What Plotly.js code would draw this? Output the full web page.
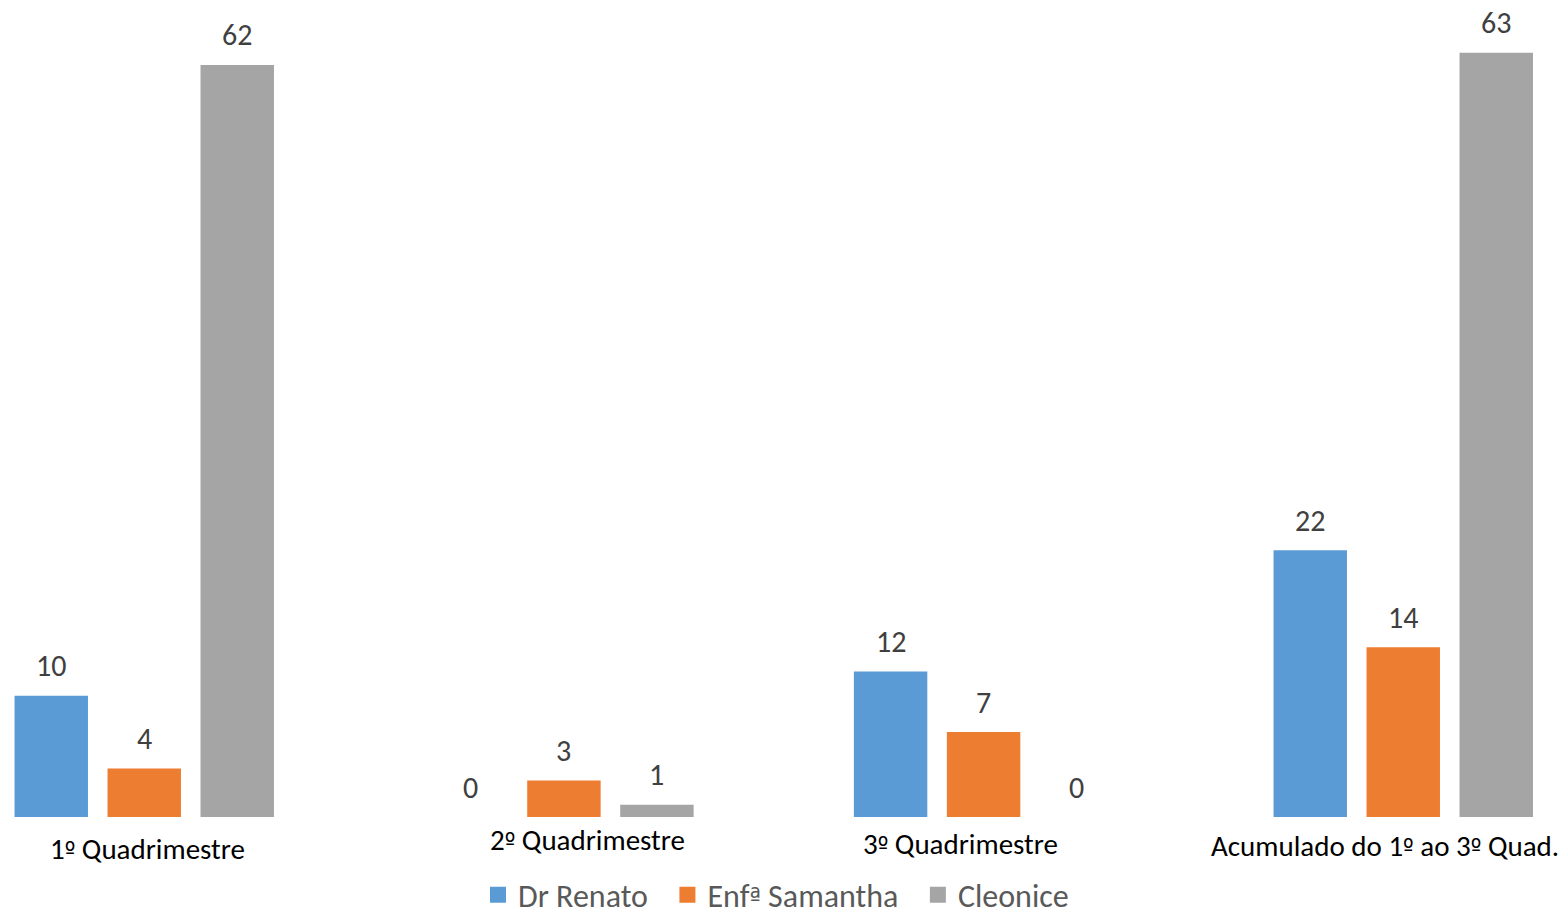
<!DOCTYPE html>
<html>
<head>
<meta charset="utf-8">
<script src="https://cdn.plot.ly/plotly-3.0.1.min.js"></script>
<style>html,body{margin:0;padding:0;background:#fff;}#chart{width:1567px;height:910px;}</style>
</head>
<body>
<div id="chart"></div>
<script>
const categories = ["1º Quadrimestre", "2º Quadrimestre", "3º Quadrimestre", "Acumulado do 1º ao 3º Quad."];
const seriesNames = ["Dr Renato", "Enfª Samantha", "Cleonice"];
const drRenato = [10, 0, 12, 22];
const enfSamantha = [4, 3, 7, 14];
const cleonice = [62, 1, 0, 63];
const colors = ["#5B9BD5", "#ED7D31", "#A5A5A5"];

const seriesValues = [drRenato, enfSamantha, cleonice];
const barWidth = 0.175;
const pitch = 0.2216;
const centerOffsets = [-pitch, 0, pitch];
// small visual offsets of category labels (as in the original image)
const labelDx = [0.007, 0.057, -0.056, -0.043];
const labelDy = [-32, -23, -27, -29];

const FONT = "Carlito, Calibri, 'Open Sans', sans-serif";
// render ordinal indicators with an underlined-ordinal glyph font
const fmt = (s, px) => s.replace(/([ºª])/g,
  "<span style=\"font-family:'DejaVu Sans Condensed';font-size:" + px + "px\">$1</span>");
const idx = categories.map((c, i) => i);

const traces = seriesValues.map((vals, j) => ({
  type: "bar",
  name: seriesNames[j],
  x: idx,
  y: vals,
  width: barWidth,
  offset: centerOffsets[j] - barWidth / 2,
  marker: {color: colors[j]},
  showlegend: false,
  hoverinfo: "none"
}));
// legend entries with square swatches
seriesNames.forEach((n, j) => {
  traces.push({
    type: "scatter", mode: "markers", name: fmt(n, 27) + "\u00a0\u00a0", x: [null], y: [null],
    marker: {symbol: "square", size: 16, color: colors[j]},
    showlegend: true, hoverinfo: "none"
  });
});

const annotations = [];
seriesValues.forEach((vals, j) => {
  vals.forEach((v, i) => {
    annotations.push({
      x: i + centerOffsets[j], y: v, xref: "x", yref: "y",
      text: String(v), showarrow: false, yanchor: "middle", yshift: 30,
      font: {family: FONT, size: 30, color: "#404040"}
    });
  });
});
categories.forEach((c, i) => {
  annotations.push({
    x: i + labelDx[i], y: 0, xref: "x", yref: "y",
    text: fmt(c, 25), showarrow: false, yanchor: "middle", yshift: labelDy[i],
    font: {family: FONT, size: 29, color: "#000000"}
  });
});

const pxPerUnitX = 419.67;
const x0 = -144.25 / pxPerUnitX;
const layout = {
  width: 1567, height: 910,
  margin: {l: 0, r: 0, t: 0, b: 93, pad: 0, autoexpand: false},
  paper_bgcolor: "#ffffff", plot_bgcolor: "#ffffff",
  barmode: "overlay",
  showlegend: true,
  legend: {orientation: "h", x: 0.5, xanchor: "center", yref: "container", y: 15 / 910, yanchor: "middle",
           font: {family: FONT, size: 32, color: "#595959"}, traceorder: "normal", itemwidth: 30},
  xaxis: {range: [x0, x0 + 1567 / pxPerUnitX], showgrid: false, zeroline: false,
          showticklabels: false, showline: false, ticks: "", fixedrange: true},
  yaxis: {range: [0, 817 / 12.13], showgrid: false, zeroline: false,
          showticklabels: false, showline: false, ticks: "", fixedrange: true},
  annotations: annotations
};

Plotly.newPlot("chart", traces, layout, {displayModeBar: false, staticPlot: true});
</script>
</body>
</html>
